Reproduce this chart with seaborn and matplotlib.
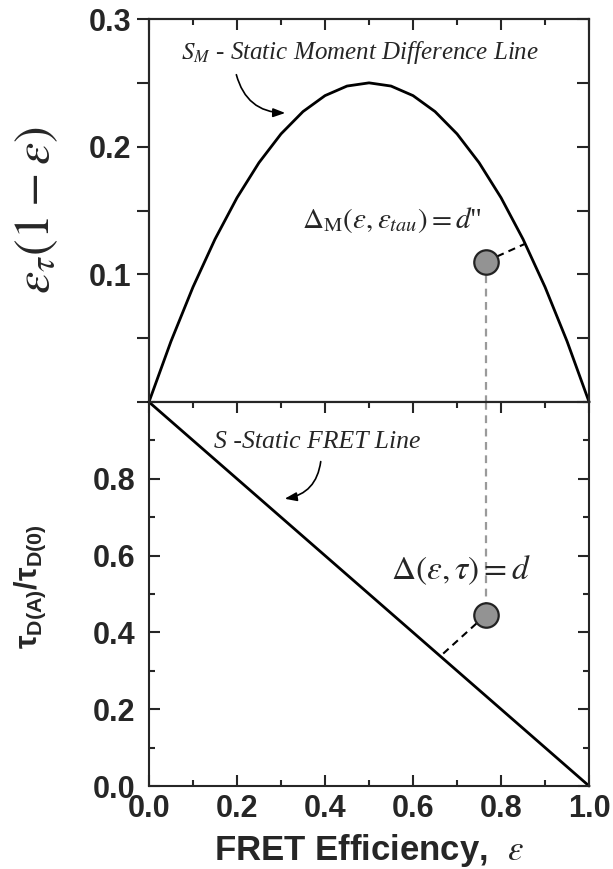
import matplotlib
matplotlib.use('Agg')
import matplotlib.pyplot as plt
from matplotlib.ticker import MultipleLocator
import seaborn as sns

# data
eps = [0.0, 0.05, 0.1, 0.15, 0.2, 0.25, 0.3, 0.35, 0.4, 0.45, 0.5,
       0.55, 0.6, 0.65, 0.7, 0.75, 0.8, 0.85, 0.9, 0.95, 1.0]
sm_line = [0.0, 0.0475, 0.09, 0.1275, 0.16, 0.1875, 0.21, 0.2275, 0.24, 0.2475, 0.25,
           0.2475, 0.24, 0.2275, 0.21, 0.1875, 0.16, 0.1275, 0.09, 0.0475, 0.0]
s_eps = [0.0, 1.0]
s_tau = [1.0, 0.0]

pt_eps = 0.765
pt_sm = 0.110
pt_tau = 0.445
foot_top = (0.855, 0.124)   # nearest point on S_M line
foot_bot = (0.662, 0.338)   # nearest point on S line

sns.set_theme(style='ticks')
plt.rcParams['font.family'] = ['Liberation Sans', 'DejaVu Sans']
plt.rcParams['mathtext.fontset'] = 'stix'
plt.rcParams['mathtext.bf'] = 'Liberation Sans:bold'
plt.rcParams['mathtext.rm'] = 'Liberation Sans:bold'
plt.rcParams['mathtext.it'] = 'Liberation Sans:bold'
plt.rcParams['axes.linewidth'] = 1.5

fig = plt.figure(figsize=(6.13, 8.69), dpi=100)
ax1 = fig.add_axes([0.243, 0.5374, 0.718, 0.4407])
ax2 = fig.add_axes([0.243, 0.0955, 0.718, 0.4419])

# ---- top panel: static moment difference line
sns.lineplot(x=eps, y=sm_line, ax=ax1, color='black', lw=2.0, clip_on=False)
ax1.plot([pt_eps, pt_eps], [pt_sm, 0], color='#9a9a9a', lw=1.6, dashes=(3.5, 2.5), zorder=1)
ax1.plot([pt_eps, foot_top[0]], [pt_sm, foot_top[1]], color='black', lw=1.5, dashes=(3.5, 2.5))
sns.scatterplot(x=[pt_eps], y=[pt_sm], ax=ax1, s=310, color='#939393',
                edgecolor='#222222', linewidth=1.6, zorder=5)

ax1.set_xlim(0, 1)
ax1.set_ylim(0, 0.3)
ax1.set_yticks([0.1, 0.2, 0.3])
ax1.set_yticklabels(['0.1', '0.2', '0.3'])
ax1.yaxis.set_minor_locator(MultipleLocator(0.05))
ax1.xaxis.set_major_locator(MultipleLocator(0.2))
ax1.xaxis.set_minor_locator(MultipleLocator(0.1))
ax1.tick_params(axis='y', which='both', direction='out', length=9, width=1.5,
                left=True, right=False, labelsize=22, pad=4)
ax1.tick_params(axis='x', which='both', direction='in', bottom=False, top=True,
                labelbottom=False, width=1.5)
ax1.tick_params(axis='x', which='major', length=8)
ax1.tick_params(axis='x', which='minor', length=4)
for lab in ax1.get_yticklabels():
    lab.set_fontweight('bold')
# right side inward ticks drawn with a twin axis
ax1r = ax1.twinx()
ax1r.set_ylim(0, 0.3)
ax1r.yaxis.set_major_locator(MultipleLocator(0.05))
ax1r.tick_params(axis='y', direction='in', length=9, width=1.5, labelright=False)

ax1.set_ylabel(r'$\varepsilon_\tau(1-\varepsilon)$', fontsize=36, va='center')
ax1.yaxis.set_label_coords(-0.2545, 0.5)

ax1.text(0.073, 0.274, r'$S_M$ - Static Moment Difference Line', fontsize=18,
         family='Liberation Serif', style='italic', ha='left', va='center')
ax1.annotate('', xy=(0.316, 0.2264), xytext=(0.197, 0.2585),
             arrowprops=dict(arrowstyle='-|>,head_length=0.6,head_width=0.22',
                             connectionstyle='arc3,rad=0.4', color='black', lw=1.2))
ax1.text(0.348, 0.1426, r'$\Delta_{\mathrm{M}}(\varepsilon,\varepsilon_{tau}) = d$"', fontsize=21,
         family='Liberation Serif', ha='left', va='center')

# ---- bottom panel: static FRET line
sns.lineplot(x=s_eps, y=s_tau, ax=ax2, color='black', lw=2.0, clip_on=False)
ax2.plot([pt_eps, pt_eps], [1.0, pt_tau], color='#9a9a9a', lw=1.6, dashes=(3.5, 2.5), zorder=1)
ax2.plot([pt_eps, foot_bot[0]], [pt_tau, foot_bot[1]], color='black', lw=1.5, dashes=(3.5, 2.5))
sns.scatterplot(x=[pt_eps], y=[pt_tau], ax=ax2, s=310, color='#939393',
                edgecolor='#222222', linewidth=1.6, zorder=5)

ax2.set_xlim(0, 1)
ax2.set_ylim(0, 1)
ax2.set_yticks([0.0, 0.2, 0.4, 0.6, 0.8])
ax2.set_yticklabels(['0.0', '0.2', '0.4', '0.6', '0.8'])
ax2.yaxis.set_minor_locator(MultipleLocator(0.1))
ax2.xaxis.set_major_locator(MultipleLocator(0.2))
ax2.xaxis.set_minor_locator(MultipleLocator(0.1))
ax2.tick_params(which='both', direction='in', top=True, right=True, width=1.5)
ax2.tick_params(which='major', length=8, labelsize=22)
ax2.tick_params(which='minor', length=4)
ax2.tick_params(axis='y', which='major', pad=10)
ax2.tick_params(axis='x', which='major', pad=6)
for lab in ax2.get_yticklabels() + ax2.get_xticklabels():
    lab.set_fontweight('bold')

ax2.set_ylabel(r'$\mathbf{\tau_{D(A)}/\tau_{D(0)}}$', fontsize=22, math_fontfamily='custom', va='center')
ax2.yaxis.set_label_coords(-0.27, 0.518)
ax2.set_xlabel(r'FRET Efficiency,  $\varepsilon$', fontsize=25, fontweight='bold', va='center')
ax2.xaxis.set_label_coords(0.5, -0.167)

ax2.text(0.148, 0.896, 'S -Static FRET Line', fontsize=18.5,
         family='Liberation Serif', style='italic', ha='left', va='center')
ax2.annotate('', xy=(0.302, 0.747), xytext=(0.391, 0.852),
             arrowprops=dict(arrowstyle='-|>,head_length=0.6,head_width=0.22',
                             connectionstyle='arc3,rad=-0.4', color='black', lw=1.2))
ax2.text(0.55, 0.5625, r'$\Delta(\varepsilon,\tau) = d$', fontsize=24,
         family='Liberation Serif', ha='left', va='center')

plt.savefig('out.png', dpi=100)
